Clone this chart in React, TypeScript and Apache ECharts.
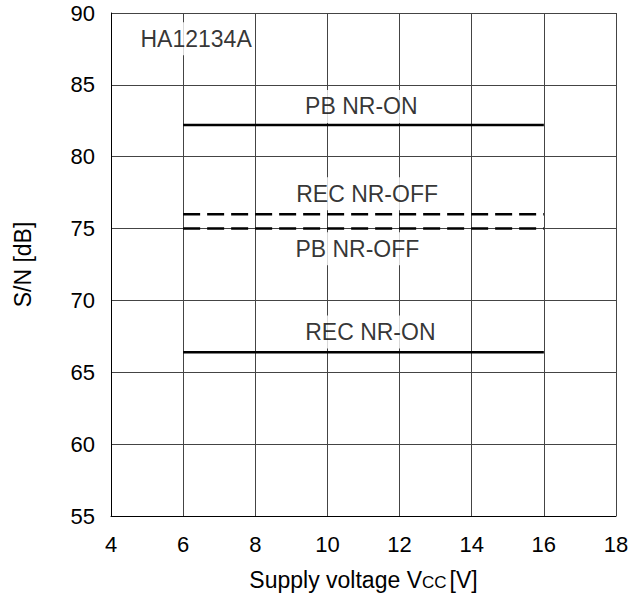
import React, { useEffect, useRef } from "react";
import * as echarts from "echarts";

const xTicks = { min: 4, max: 18, interval: 2 };
const yTicks = { min: 55, max: 90, interval: 5 };

const pbNrOn: [number, number][] = [[6, 82.2], [16, 82.2]];
const recNrOff: [number, number][] = [[6, 76.0], [16, 76.0]];
const pbNrOff: [number, number][] = [[6, 75.0], [16, 75.0]];
const recNrOn: [number, number][] = [[6, 66.4], [16, 66.4]];

const labelNames = ["HA12134A", "PB NR-ON", "REC NR-OFF", "PB NR-OFF", "REC NR-ON"];
const labelX = [6.36, 10.94, 11.1, 10.83, 11.19];
const labelY = [88.2, 83.5, 77.43, 73.6, 67.8];

const FONT = "'Liberation Sans', Arial, Helvetica, sans-serif";

export default function App() {
  const ref = useRef<HTMLDivElement>(null);
  useEffect(() => {
    if (!ref.current) return;
    const chart = echarts.init(ref.current, undefined, { renderer: "svg" });
    const lineSeries = (name: string, data: [number, number][], dashed: boolean) => ({
      name,
      type: "line",
      data,
      symbol: "none",
      z: 3,
      lineStyle: { color: "#000", width: 2.5, type: dashed ? [17, 7] : "solid" },
    });
    chart.setOption({
      animation: false,
      backgroundColor: "#fff",
      textStyle: { fontFamily: FONT },
      grid: { left: 111, top: 13, width: 505, height: 503, containLabel: false },
      xAxis: {
        type: "value",
        min: xTicks.min,
        max: xTicks.max,
        interval: xTicks.interval,
        axisLine: { show: true, lineStyle: { color: "#000", width: 1 } },
        axisTick: { show: false },
        axisLabel: { color: "#000", fontSize: 22, margin: 17, fontFamily: FONT },
        splitLine: { show: true, lineStyle: { color: "#444", width: 1 } },
        name: "{a|Supply voltage V}{s|CC}{a|[V]}",
        nameLocation: "middle",
        nameGap: 52,
        nameTextStyle: {
          rich: {
            a: { fontSize: 23, color: "#000", fontFamily: FONT },
            s: { fontSize: 17, color: "#000", fontFamily: FONT, verticalAlign: "bottom", padding: [6, 3, 0, 0] },
          },
        },
      },
      yAxis: {
        type: "value",
        min: yTicks.min,
        max: yTicks.max,
        interval: yTicks.interval,
        axisLine: { show: true, lineStyle: { color: "#000", width: 1 } },
        axisTick: { show: false },
        axisLabel: { color: "#000", fontSize: 22, margin: 16, fontFamily: FONT },
        splitLine: { show: true, lineStyle: { color: "#444", width: 1 } },
        name: "S/N [dB]",
        nameLocation: "middle",
        nameGap: 77,
        nameTextStyle: { fontSize: 23, color: "#000", fontFamily: FONT },
      },
      series: [
        lineSeries("PB NR-ON", pbNrOn, false),
        lineSeries("REC NR-OFF", recNrOff, true),
        lineSeries("PB NR-OFF", pbNrOff, true),
        lineSeries("REC NR-ON", recNrOn, false),
        {
          type: "scatter",
          symbolSize: 0,
          z: 2,
          data: labelNames.map((n, i) => ({ value: [labelX[i], labelY[i]], name: n })),
          label: {
            show: true,
            position: "inside",
            formatter: (p: any) => p.name,
            color: "#000",
            fontSize: 23,
            fontFamily: FONT,
            backgroundColor: "#fff",
            padding: [5, 3, 5, 3],
          },
        },
      ],
    });
    return () => chart.dispose();
  }, []);
  return (
    <div
      ref={ref}
      style={{ position: "fixed", left: 0, top: 0, width: 633, height: 598, background: "#fff" }}
    />
  );
}
